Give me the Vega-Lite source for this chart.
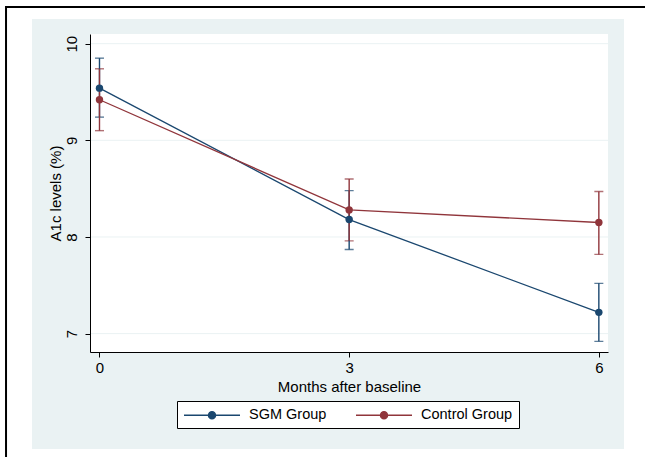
{
  "$schema": "https://vega.github.io/schema/vega-lite/v6.json",
  "width": 518,
  "height": 318,
  "autosize": {"type": "none"},
  "padding": {"left": 90, "top": 34, "right": 37, "bottom": 105},
  "background": "white",
  "config": {"view": {"stroke": null}, "font": "Liberation Sans"},
  "datasets": {
    "a1c": [
      {"group": "SGM Group", "month": 0, "mean": 9.54, "lo": 9.24, "hi": 9.85},
      {"group": "SGM Group", "month": 3, "mean": 8.18, "lo": 7.87, "hi": 8.48},
      {"group": "SGM Group", "month": 6, "mean": 7.22, "lo": 6.92, "hi": 7.52},
      {"group": "Control Group", "month": 0, "mean": 9.42, "lo": 9.10, "hi": 9.74},
      {"group": "Control Group", "month": 3, "mean": 8.28, "lo": 7.96, "hi": 8.60},
      {"group": "Control Group", "month": 6, "mean": 8.15, "lo": 7.82, "hi": 8.47}
    ],
    "frame": [{"x": -1.123, "x2": 8, "y": 10.379, "y2": 5}],
    "region": [{"x": -0.811, "x2": 6.302, "y": 10.255, "y2": 5.807}],
    "plot": [{"x": -0.114, "x2": 6.11, "y": 10.1, "y2": 6.81}],
    "grid": [{"y": 7}, {"y": 8}, {"y": 9}, {"y": 10}]
  },
  "layer": [
    {
      "data": {"name": "frame"},
      "mark": {"type": "rect", "fill": "white", "stroke": "black", "strokeWidth": 2},
      "encoding": {
        "x": {"field": "x", "type": "quantitative"},
        "x2": {"field": "x2"},
        "y": {"field": "y", "type": "quantitative"},
        "y2": {"field": "y2"}
      }
    },
    {
      "data": {"name": "region"},
      "mark": {"type": "rect", "fill": "#EAF2F3"},
      "encoding": {
        "x": {"field": "x", "type": "quantitative"},
        "x2": {"field": "x2"},
        "y": {"field": "y", "type": "quantitative"},
        "y2": {"field": "y2"}
      }
    },
    {
      "data": {"name": "plot"},
      "mark": {"type": "rect", "fill": "white"},
      "encoding": {
        "x": {"field": "x", "type": "quantitative"},
        "x2": {"field": "x2"},
        "y": {"field": "y", "type": "quantitative"},
        "y2": {"field": "y2"}
      }
    },
    {
      "data": {"name": "grid"},
      "mark": {"type": "rule", "color": "#EAF2F3", "strokeWidth": 1},
      "encoding": {
        "y": {"field": "y", "type": "quantitative"}
      }
    },
    {
      "data": {"name": "a1c"},
      "mark": {"type": "errorbar", "ticks": {"size": 9}, "thickness": 1.4},
      "encoding": {
        "x": {
          "field": "month", "type": "quantitative",
          "scale": {"domain": [-0.114, 6.11], "nice": false, "zero": false},
          "axis": {
            "values": [0, 3, 6], "format": "d", "grid": false, "title": "Months after baseline",
            "labelFontSize": 15, "titleFontSize": 15, "titleFontWeight": "normal",
            "labelColor": "black", "titleColor": "black", "tickColor": "black",
            "domainColor": "black", "tickSize": 5, "labelPadding": 3, "titlePadding": 4,
            "zindex": 1
          }
        },
        "y": {
          "field": "lo", "type": "quantitative",
          "scale": {"domain": [6.81, 10.1], "nice": false, "zero": false},
          "axis": {
            "values": [7, 8, 9, 10], "format": "d", "grid": false,
            "title": "A1c levels (%)", "labelAngle": 270, "labelAlign": "center",
            "labelBaseline": "bottom", "labelPadding": 6,
            "labelFontSize": 15, "titleFontSize": 15, "titleFontWeight": "normal",
            "labelColor": "black", "titleColor": "black", "tickColor": "black",
            "domainColor": "black", "tickSize": 5, "titlePadding": 1, "zindex": 1
          }
        },
        "y2": {"field": "hi"},
        "color": {
          "field": "group", "type": "nominal",
          "scale": {"domain": ["SGM Group", "Control Group"], "range": ["#1a476f", "#90353b"]},
          "legend": {
            "orient": "none", "legendX": 87, "legendY": 367, "direction": "horizontal",
            "columns": 2, "title": null,
            "symbolType": "M-1,0L7,0M2.5,0A0.5,0.5,0,1,1,3.5,0A0.5,0.5,0,1,1,2.5,0Z",
            "symbolSize": 196, "symbolStrokeWidth": 1.5, "symbolOpacity": 1,
            "labelFontSize": 14.5, "labelColor": "black", "labelLimit": 300,
            "strokeColor": "black", "fillColor": "white", "padding": 6,
            "columnPadding": 26, "labelOffset": 50,
            "encode": {
              "symbols": {
                "update": {
                  "fill": {"scale": "color", "field": "value"},
                  "stroke": {"scale": "color", "field": "value"}
                }
              }
            }
          }
        }
      }
    },
    {
      "data": {"name": "a1c"},
      "mark": {"type": "line", "strokeWidth": 1.3},
      "encoding": {
        "x": {"field": "month", "type": "quantitative"},
        "y": {"field": "mean", "type": "quantitative"},
        "color": {"field": "group", "type": "nominal"}
      }
    },
    {
      "data": {"name": "a1c"},
      "mark": {"type": "point", "filled": true, "size": 55, "opacity": 1},
      "encoding": {
        "x": {"field": "month", "type": "quantitative"},
        "y": {"field": "mean", "type": "quantitative"},
        "color": {"field": "group", "type": "nominal"}
      }
    }
  ]
}
